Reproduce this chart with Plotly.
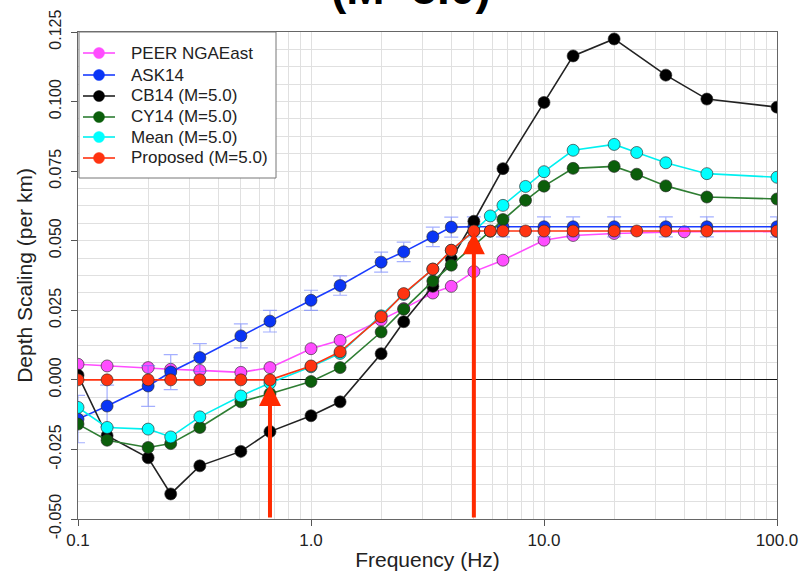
import numpy as np
import plotly.graph_objects as go

# ---------------- data ----------------
peer_f = [0.1, 0.1333, 0.2, 0.25, 0.3333, 0.5, 0.6667, 1.0, 1.3333, 2.0, 2.5, 3.3333, 4.0, 5.0, 6.6667, 10.0, 13.333, 20.0, 40.0, 100.0]
peer_y = [0.0056, 0.0050, 0.0044, 0.0038, 0.0034, 0.0027, 0.0044, 0.0112, 0.0142, 0.0215, 0.0256, 0.0312, 0.0336, 0.0389, 0.0430, 0.0502, 0.0519, 0.0526, 0.0532, 0.0533]

ask_f = [0.1, 0.1333, 0.2, 0.25, 0.3333, 0.5, 0.6667, 1.0, 1.3333, 2.0, 2.5, 3.3333, 4.0, 5.0, 6.6667, 10.0, 13.333, 20.0, 33.333, 50.0, 100.0]
ask_y = [-0.0141, -0.0094, -0.0022, 0.0028, 0.0080, 0.0158, 0.0211, 0.0286, 0.0339, 0.0423, 0.0460, 0.0514, 0.0549, 0.0550, 0.0550, 0.0550, 0.0550, 0.0550, 0.0550, 0.0550, 0.0550]
ask_err = [0.0085, 0.0075, 0.0073, 0.0063, 0.0050, 0.0043, 0.0039, 0.0036, 0.0035, 0.0036, 0.0035, 0.0035, 0.0036, 0.0036, 0.0036, 0.0036, 0.0036, 0.0036, 0.0036, 0.0036, 0.0036]

cb_f = [0.1, 0.1333, 0.2, 0.25, 0.3333, 0.5, 0.6667, 1.0, 1.3333, 2.0, 2.5, 3.3333, 4.0, 5.0, 6.6667, 10.0, 13.333, 20.0, 33.333, 50.0, 100.0]
cb_y = [0.0017, -0.0201, -0.0280, -0.0410, -0.0309, -0.0257, -0.0186, -0.0129, -0.0079, 0.0094, 0.0209, 0.0336, 0.0435, 0.0570, 0.0759, 0.0997, 0.1164, 0.1225, 0.1095, 0.1009, 0.0980]

cy_f = [0.1, 0.1333, 0.2, 0.25, 0.3333, 0.5, 0.6667, 1.0, 1.3333, 2.0, 2.5, 3.3333, 4.0, 5.0, 5.8824, 6.6667, 8.3333, 10.0, 13.333, 20.0, 25.0, 33.333, 50.0, 100.0]
cy_y = [-0.0159, -0.0217, -0.0243, -0.0229, -0.0171, -0.0079, -0.0050, -0.0006, 0.0044, 0.0172, 0.0254, 0.0355, 0.0412, 0.0483, 0.0534, 0.0576, 0.0645, 0.0696, 0.0760, 0.0767, 0.0739, 0.0697, 0.0657, 0.0650]

mean_f = [0.1, 0.1333, 0.2, 0.25, 0.3333, 0.5, 0.6667, 1.0, 1.3333, 2.0, 2.5, 3.3333, 4.0, 5.0, 5.8824, 6.6667, 8.3333, 10.0, 13.333, 20.0, 25.0, 33.333, 50.0, 100.0]
mean_y = [-0.0099, -0.0171, -0.0177, -0.0205, -0.0133, -0.0058, -0.0011, 0.0047, 0.0095, 0.0230, 0.0307, 0.0398, 0.0465, 0.0534, 0.0589, 0.0627, 0.0695, 0.0748, 0.0825, 0.0846, 0.0817, 0.0780, 0.0741, 0.0728]

prop_f = [0.1, 0.1333, 0.2, 0.25, 0.3333, 0.5, 0.6667, 1.0, 1.3333, 2.0, 2.5, 3.3333, 4.0, 5.0, 5.8824, 6.6667, 8.3333, 10.0, 13.333, 20.0, 25.0, 33.333, 50.0, 100.0]
prop_y = [0.0, 0.0, 0.0, 0.0, 0.0, 0.0, 0.0, 0.0050, 0.0101, 0.0227, 0.0310, 0.0398, 0.0466, 0.0535, 0.0535, 0.0535, 0.0535, 0.0535, 0.0535, 0.0535, 0.0535, 0.0535, 0.0535, 0.0535]

series_names = ["PEER NGAEast", "ASK14", "CB14 (M=5.0)", "CY14 (M=5.0)", "Mean (M=5.0)", "Proposed (M=5.0)"]

arrow_f = [0.6667, 5.0]
arrow_tip = [-0.0015, 0.0530]

y_ticks = [-0.05, -0.025, 0.0, 0.025, 0.05, 0.075, 0.1, 0.125]
y_tick_text = ["-0.050", "-0.025", "0.000", "0.025", "0.050", "0.075", "0.100", "0.125"]
x_ticks = [0.1, 1.0, 10.0, 100.0]
x_tick_text = ["0.1", "1.0", "10.0", "100.0"]

FONT = "Liberation Sans, Arial, sans-serif"

# figure geometry (pixels)
W, H = 801, 573
ML, MR, MT, MB = 78, 24, 32, 54
PW, PH = W - ML - MR, H - MT - MB

def px2paper_x(px):
    return (px - ML) / PW

def px2paper_y(py):
    return (H - MB - py) / PH

fig = go.Figure()

line_cols = ["#ff4dff", "#1a3cff", "#222222", "#2e7d32", "#00f0f0", "#ff3311"]
fill_cols = ["#ff4dff", "#0a35f5", "#000000", "#0b5e0b", "#00ffff", "#ff3311"]
all_f = [peer_f, ask_f, cb_f, cy_f, mean_f, prop_f]
all_y = [peer_y, ask_y, cb_y, cy_y, mean_y, prop_y]

for i, (name, f, y) in enumerate(zip(series_names, all_f, all_y)):
    kw = {}
    if name == "ASK14":
        kw["error_y"] = dict(type="data", array=ask_err, visible=True,
                             color="rgba(90,110,255,0.55)", thickness=1.2, width=7)
    fig.add_trace(go.Scatter(
        x=f, y=y, name=name, mode="lines+markers", showlegend=False,
        line=dict(color=line_cols[i], width=1.6),
        marker=dict(size=12, color=fill_cols[i], line=dict(color="rgba(40,40,40,0.8)", width=0.8)),
        **kw))

# arrows
for f, tip in zip(arrow_f, arrow_tip):
    fig.add_annotation(x=np.log10(f), y=tip, ax=np.log10(f), ay=-0.05,
                       xref="x", yref="y", axref="x", ayref="y",
                       showarrow=True, arrowhead=2, arrowsize=1.1, arrowwidth=4,
                       arrowcolor="#ff2a00", standoff=0, text="")

# partially visible title at the top edge
fig.add_annotation(text="<b>(M=5.0)</b>", xref="paper", yref="paper",
                   x=0.476, y=1.033, xanchor="center", yanchor="bottom",
                   showarrow=False, font=dict(family=FONT, size=46, color="black"))

# manual legend
shapes = [dict(type="rect", xref="paper", yref="paper",
               x0=px2paper_x(79), x1=px2paper_x(276), y0=px2paper_y(178), y1=px2paper_y(32),
               line=dict(color="#777", width=1), fillcolor="white", layer="above")]
row_y = [53, 75, 96, 117, 137, 158]
for i, name in enumerate(series_names):
    yc = px2paper_y(row_y[i])
    shapes.append(dict(type="line", xref="paper", yref="paper",
                       x0=px2paper_x(83), x1=px2paper_x(115), y0=yc, y1=yc,
                       line=dict(color=line_cols[i], width=1.6), layer="above"))
    shapes.append(dict(type="circle", xref="paper", yref="paper",
                       xsizemode="pixel", ysizemode="pixel",
                       xanchor=px2paper_x(99), yanchor=yc,
                       x0=-5.5, x1=5.5, y0=-5.5, y1=5.5,
                       fillcolor=fill_cols[i], line=dict(color=fill_cols[i], width=0.5),
                       layer="above"))
    fig.add_annotation(text=name, xref="paper", yref="paper",
                       x=px2paper_x(129), y=yc, xanchor="left", yanchor="middle",
                       showarrow=False, font=dict(family=FONT, size=17, color="#222"))

fig.update_layout(
    width=W, height=H,
    margin=dict(l=ML, r=MR, t=MT, b=MB),
    paper_bgcolor="white", plot_bgcolor="white",
    font=dict(family=FONT, size=16, color="#222"),
    showlegend=False,
    shapes=shapes,
)

fig.update_xaxes(type="log", range=[-1, 2], automargin=False,
                 tickvals=x_ticks, ticktext=x_tick_text,
                 ticks="outside", ticklen=6, tickcolor="#555",
                 showgrid=True, gridcolor="#e0e0e0", gridwidth=1,
                 minor=dict(dtick="D1", showgrid=True, gridcolor="#e0e0e0", ticks=""),
                 showline=True, linecolor="#666", linewidth=1, mirror=True,
                 zeroline=False,
                 tickfont=dict(size=17),
                 title=dict(text="Frequency (Hz)", font=dict(size=21), standoff=2))

fig.update_yaxes(range=[-0.05, 0.125], automargin=False,
                 tickvals=y_ticks, ticktext=y_tick_text, tickangle=-90,
                 ticks="outside", ticklen=6, tickcolor="#555", ticklabelstandoff=4,
                 showgrid=True, gridcolor="#e0e0e0", gridwidth=1,
                 minor=dict(dtick=0.00625, showgrid=True, gridcolor="#e0e0e0", ticks=""),
                 showline=True, linecolor="#666", linewidth=1, mirror=True,
                 zeroline=True, zerolinecolor="#111", zerolinewidth=1,
                 tickfont=dict(size=16),
                 title=dict(text="Depth Scaling (per km)", font=dict(size=21), standoff=8))

fig.write_html("out.html", config={"displayModeBar": False},
               post_script="document.body.style.margin='0';document.body.style.overflow='hidden';")
